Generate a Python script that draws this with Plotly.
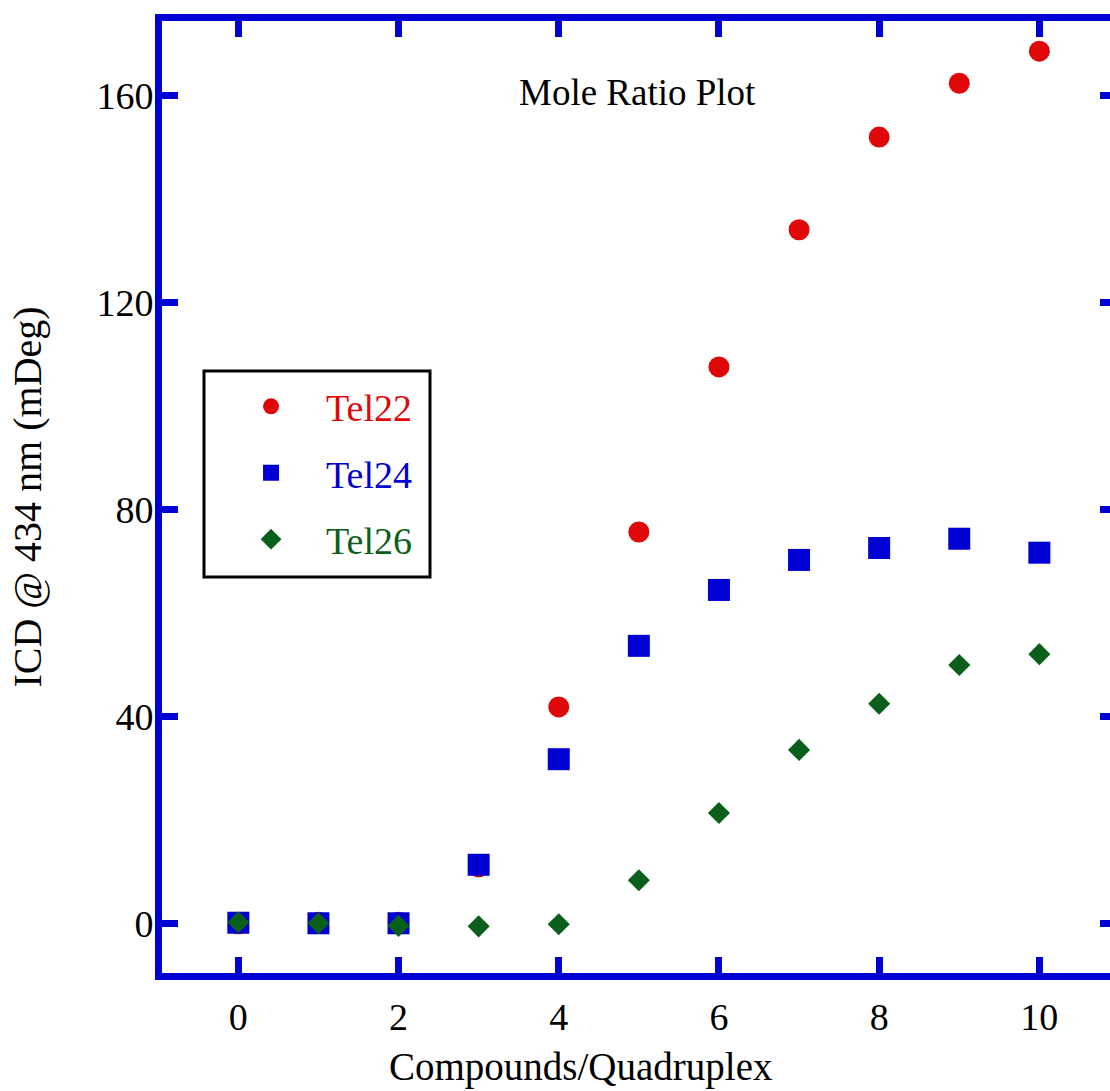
import plotly.graph_objects as go

ratio = [0, 1, 2, 3, 4, 5, 6, 7, 8, 9, 10]
tel22 = [0.0, 0.3, 0.3, 11.0, 41.9, 75.7, 107.6, 134.1, 152.0, 162.4, 168.6]
tel24 = [0.2, 0.1, 0.1, 11.4, 31.8, 53.7, 64.5, 70.3, 72.6, 74.4, 71.7]
tel26 = [0.3, 0.1, -0.4, -0.5, -0.1, 8.4, 21.4, 33.6, 42.5, 50.0, 52.1]

x_ticks = [0, 2, 4, 6, 8, 10]
y_ticks = [0, 40, 80, 120, 160]

RED = "#DF0707"
BLUE = "#0000D4"
GREEN = "#0A5F1B"
FONT = "Liberation Serif"

XR = [-0.953, 10.882]
YR = [-9.51, 174.43]

fig = go.Figure()
series = [
    ("Tel22", tel22, RED, "circle", 21),
    ("Tel24", tel24, BLUE, "square", 22),
    ("Tel26", tel26, GREEN, "diamond", 17),
]
for name, vals, col, sym, sz in series:
    fig.add_trace(go.Scatter(
        x=ratio, y=vals, mode="markers",
        name=f"<span style='color:{col}'>{name}</span>",
        legendgroup=name,
        marker=dict(color=col, symbol=sym, size=sz, line=dict(width=0)),
    ))

# invisible traces to drive the mirrored top / right axes
fig.add_trace(go.Scatter(x=[None], y=[None], xaxis="x", yaxis="y2", showlegend=False))
fig.add_trace(go.Scatter(x=[None], y=[None], xaxis="x2", yaxis="y", showlegend=False))

tick_style = dict(ticks="inside", tickwidth=7, tickcolor=BLUE)

fig.update_layout(
    width=1110, height=1091,
    margin=dict(l=162, r=0, t=21, b=118),
    paper_bgcolor="white", plot_bgcolor="white",
    font=dict(family=FONT, size=38, color="black"),
    xaxis=dict(
        range=XR, tickvals=x_ticks, ticktext=[str(v) for v in x_ticks],
        showgrid=False, zeroline=False,
        showline=True, linecolor=BLUE, linewidth=7,
        ticklen=16, **tick_style,
        ticklabelstandoff=4,
    ),
    xaxis2=dict(
        overlaying="x", side="top", range=XR, tickvals=x_ticks,
        showticklabels=False, showgrid=False, zeroline=False,
        showline=True, linecolor=BLUE, linewidth=7,
        ticklen=16, **tick_style,
    ),
    yaxis=dict(
        range=YR, tickvals=y_ticks, ticktext=[str(v) for v in y_ticks],
        showgrid=False, zeroline=False,
        showline=True, linecolor=BLUE, linewidth=7,
        ticklen=16, **tick_style,
        ticklabelstandoff=-6,
        title=dict(text="ICD @ 434 nm (mDeg)", standoff=45, font=dict(size=40)),
    ),
    yaxis2=dict(
        overlaying="y", side="right", range=YR, tickvals=y_ticks,
        showticklabels=False, showgrid=False, zeroline=False, showline=False,
        ticklen=10, **tick_style,
    ),
    legend=dict(
        x=0.057, y=0.628, xanchor="left", yanchor="top",
        bgcolor="rgba(0,0,0,0)", borderwidth=0,
        font=dict(family=FONT, size=38),
        itemwidth=100, tracegroupgap=14,
    ),
    showlegend=True,
    annotations=[
        dict(
            text="Mole Ratio Plot", xref="paper", yref="paper",
            x=0.5015, y=0.925, xanchor="center", yanchor="middle",
            showarrow=False, font=dict(family=FONT, size=37, color="black"),
        ),
        dict(
            text="Compounds/Quadruplex", xref="paper", yref="paper",
            x=0.442, y=-0.099, xanchor="center", yanchor="middle",
            showarrow=False, font=dict(family=FONT, size=39, color="black"),
        ),
    ],
    shapes=[dict(
        type="rect", xref="paper", yref="paper",
        x0=0.0443, x1=0.2827, y0=0.416, y1=0.6324,
        line=dict(color="black", width=3), fillcolor="rgba(0,0,0,0)",
    )],
)

fig.write_html("out.html")
